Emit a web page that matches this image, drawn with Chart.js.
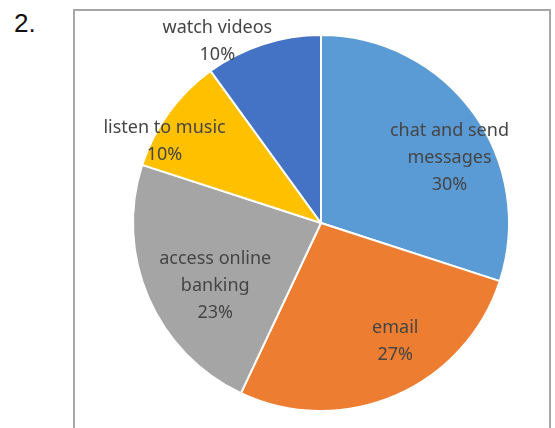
<!DOCTYPE html>
<html>
<head>
<meta charset="utf-8">
<script src="https://cdn.jsdelivr.net/npm/chart.js@4.4.0/dist/chart.umd.min.js"></script>
<style>
  body { margin:0; width:555px; height:428px; background:#fff; overflow:hidden; position:relative; }
  .num { position:absolute; left:14px; top:8px; font:26px "Liberation Sans", Arial, sans-serif; color:#111; }
  .box { position:absolute; left:73px; top:9px; width:474px; height:440px; border:2px solid #a6a6a6; border-bottom:none; }
  #pie { position:absolute; left:0; top:0; }
</style>
</head>
<body>
<div class="num">2.</div>
<div class="box"></div>
<canvas id="pie" width="555" height="428"></canvas>
<script>
// Start data
const categories = ['chat and send messages', 'email', 'access online banking', 'listen to music', 'watch videos'];
const labelLines = [['chat and send', 'messages'], ['email'], ['access online', 'banking'], ['listen to music'], ['watch videos']];
const shares = [30, 27, 23, 10, 10];
const colors = ['#5b9bd5', '#ed7d31', '#a5a5a5', '#ffc000', '#4472c4'];
// End data

// label nudges (px) from the slice centre point
const nudges = [[22, 12], [22, -2], [15, 11], [-50, -4], [-63, -56]];

const labelPlugin = {
  id: 'sliceLabels',
  afterDatasetsDraw(chart) {
    const c = chart.ctx;
    const meta = chart.getDatasetMeta(0);
    c.save();
    c.font = '18px "Noto Sans", sans-serif';
    c.fillStyle = '#454545';
    c.textAlign = 'center';
    c.textBaseline = 'middle';
    meta.data.forEach(function(arc, i){
      const p = arc.getProps(['x', 'y', 'startAngle', 'endAngle', 'outerRadius'], true);
      const mid = (p.startAngle + p.endAngle) / 2;
      const r = p.outerRadius * 0.7;
      const lines = labelLines[i].concat([shares[i] + '%']);
      const x = p.x + Math.cos(mid) * r + nudges[i][0];
      const y = p.y + Math.sin(mid) * r + nudges[i][1];
      const lh = 27;
      lines.forEach(function(t, k){
        c.fillText(t, x, y + (k - (lines.length - 1) / 2) * lh);
      });
    });
    c.restore();
  }
};

const ctx = document.getElementById('pie');
new Chart(ctx, {
  type: 'pie',
  data: {
    labels: categories,
    datasets: [{
      data: shares,
      backgroundColor: colors,
      borderColor: '#ffffff',
      borderWidth: 2
    }]
  },
  options: {
    responsive: false,
    animation: false,
    layout: { padding: { left: 132, right: 45, top: 34, bottom: 16 } },
    plugins: { legend: { display: false }, tooltip: { enabled: false } }
  },
  plugins: [labelPlugin]
});
</script>
</body>
</html>
